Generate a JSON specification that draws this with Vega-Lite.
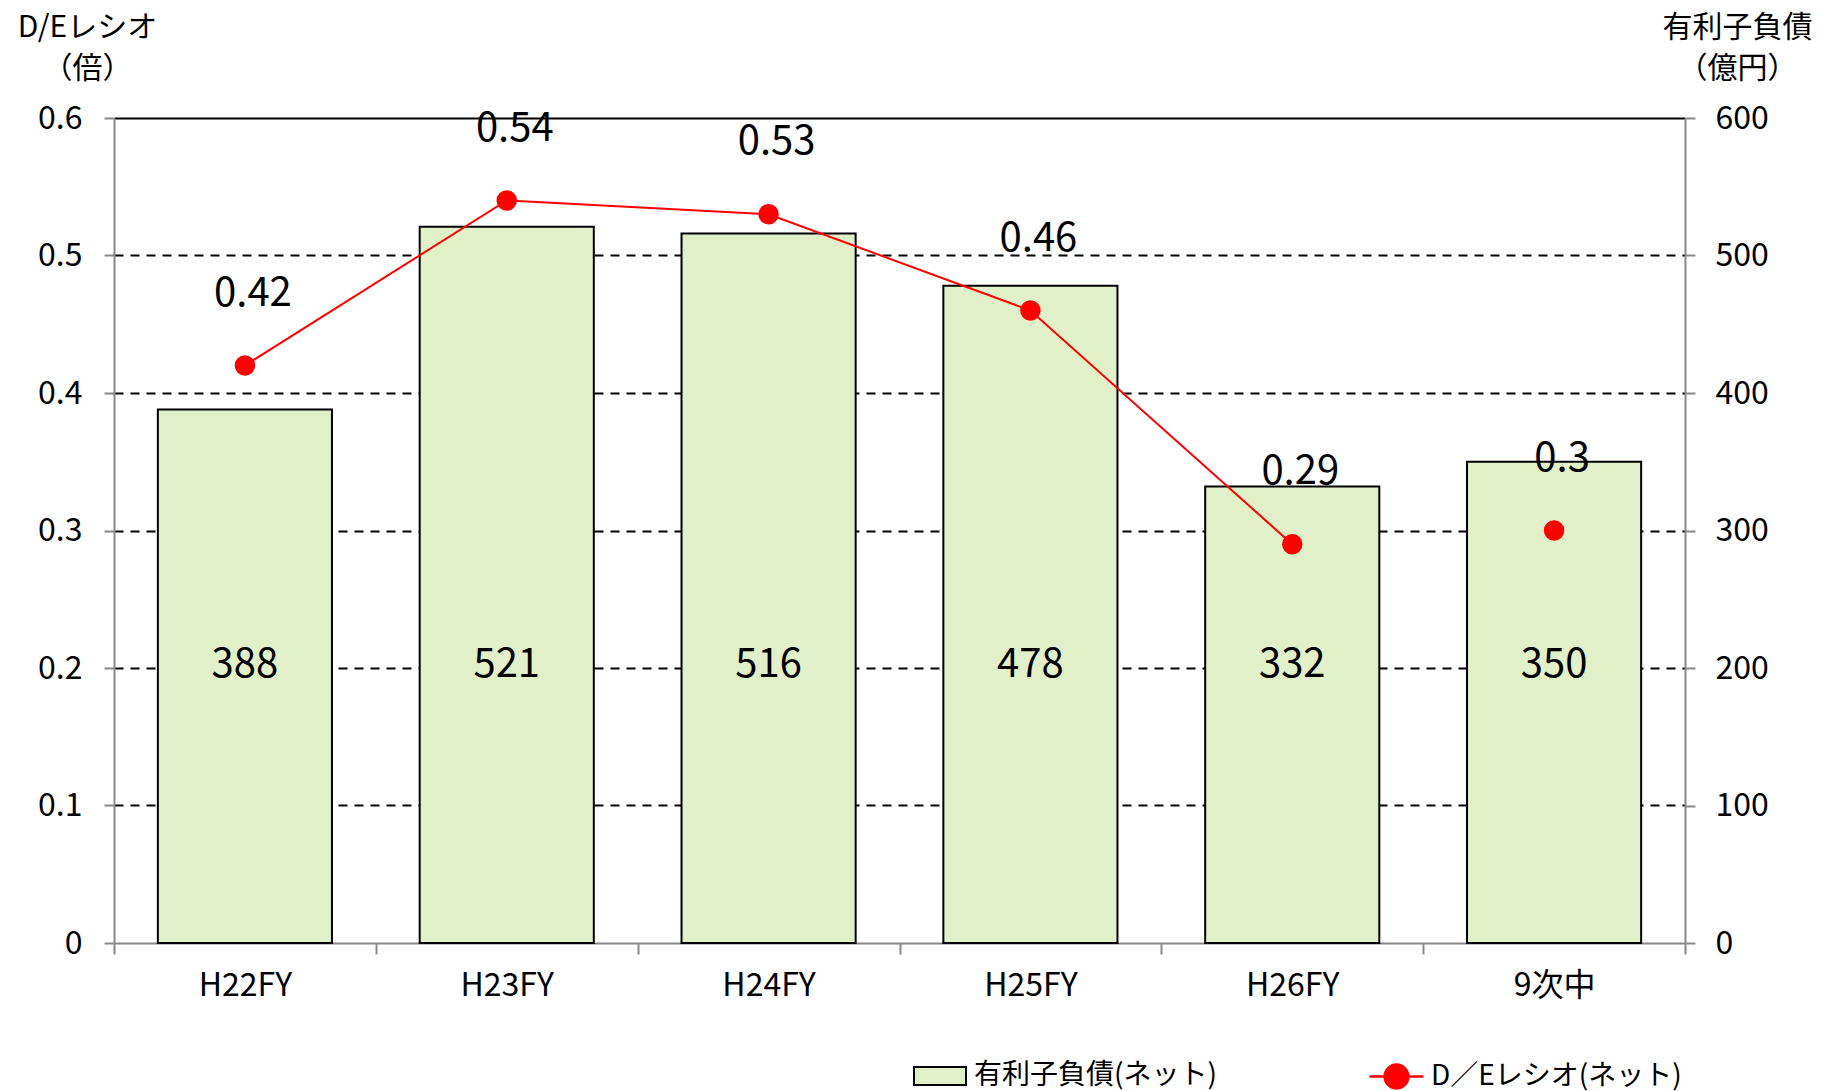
{
  "$schema": "https://vega.github.io/schema/vega-lite/v6.json",
  "width": 1571,
  "height": 825,
  "autosize": "none",
  "padding": {"left": 114, "top": 118, "right": 136, "bottom": 148},
  "background": "white",
  "config": {
    "font": "Noto Sans CJK JP",
    "view": {"stroke": null},
    "axis": {
      "labelFont": "Noto Sans CJK JP",
      "titleFont": "Noto Sans CJK JP",
      "labelColor": "black",
      "titleColor": "black",
      "domainColor": "#888888",
      "domainWidth": 2,
      "tickColor": "#888888",
      "tickWidth": 2
    },
    "legend": {"labelFont": "Noto Sans CJK JP", "labelColor": "black"}
  },
  "data": {
    "values": [
      {"year": "H22FY", "debt": 388, "de": 0.42},
      {"year": "H23FY", "debt": 521, "de": 0.54},
      {"year": "H24FY", "debt": 516, "de": 0.53},
      {"year": "H25FY", "debt": 478, "de": 0.46},
      {"year": "H26FY", "debt": 332, "de": 0.29},
      {"year": "9次中", "debt": 350, "de": 0.3}
    ]
  },
  "encoding": {
    "x": {
      "field": "year",
      "type": "nominal",
      "sort": null,
      "scale": {"paddingInner": 0, "paddingOuter": 0},
      "axis": {
        "title": null,
        "labelAngle": 0,
        "labelFontSize": 32,
        "tickBand": "extent",
        "tickSize": 11,
        "labelPadding": 31,
        "labelBaseline": "middle",
        "grid": false
      }
    }
  },
  "layer": [
    {
      "layer": [
        {
          "mark": {"type": "bar", "stroke": "black", "strokeWidth": 2, "width": {"band": 0.665}},
          "encoding": {
            "y": {
              "field": "debt",
              "type": "quantitative",
              "scale": {"domain": [0, 600]},
              "axis": {
                "orient": "right",
                "values": [0, 100, 200, 300, 400, 500, 600],
                "labelFontSize": 32,
                "tickSize": 10,
                "labelPadding": 20,
                "grid": false,
                "title": ["有利子負債", "（億円）"],
                "titleAngle": 0,
                "titleX": 52,
                "titleY": -91,
                "titleAlign": "center",
                "titleBaseline": "middle",
                "titleFontSize": 30,
                "titleFontWeight": "normal",
                "titleLineHeight": 41
              }
            },
            "fill": {
              "datum": "有利子負債(ネット)",
              "type": "nominal",
              "scale": {"range": ["#E2F0C9"]},
              "legend": {
                "orient": "none",
                "legendX": 799,
                "legendY": 931,
                "title": null,
                "padding": 0,
                "symbolType": "M-1,-0.35H1V0.35H-1Z",
                "symbolSize": 2704,
                "symbolStrokeColor": "black",
                "symbolStrokeWidth": 2,
                "labelFontSize": 28,
                "labelOffset": 7,
                "labelLimit": 400
              }
            }
          }
        },
        {
          "mark": {"type": "text", "fontSize": 40, "baseline": "middle", "dy": -3, "color": "black"},
          "encoding": {
            "y": {"datum": 200, "type": "quantitative"},
            "text": {"field": "debt", "type": "quantitative"}
          }
        }
      ]
    },
    {
      "layer": [
        {
          "transform": [{"filter": "datum.year !== '9次中'"}],
          "mark": {"type": "line", "strokeWidth": 2},
          "encoding": {
            "y": {
              "field": "de",
              "type": "quantitative",
              "scale": {"domain": [0, 0.6]},
              "axis": {
                "orient": "left",
                "values": [0, 0.1, 0.2, 0.3, 0.4, 0.5, 0.6],
                "format": ".1~f",
                "labelFontSize": 32,
                "tickSize": 10,
                "labelPadding": 22,
                "grid": true,
                "gridColor": "black",
                "gridWidth": 2,
                "gridDash": {"condition": {"test": "datum.value >= 0.59", "value": []}, "value": [9, 7]},
                "gridOpacity": {"condition": {"test": "datum.value === 0", "value": 0}, "value": 1},
                "title": ["D/Eレシオ", "（倍）"],
                "titleAngle": 0,
                "titleX": -27,
                "titleY": -91,
                "titleAlign": "center",
                "titleBaseline": "middle",
                "titleFontSize": 30,
                "titleFontWeight": "normal",
                "titleLineHeight": 41
              }
            },
            "stroke": {
              "datum": "D／Eレシオ(ネット)",
              "type": "nominal",
              "scale": {"range": ["#FF0000"]},
              "legend": {
                "orient": "none",
                "legendX": 1254,
                "legendY": 930,
                "title": null,
                "padding": 0,
                "symbolType": "M-1,0H1M-0.44,0A0.44,0.44 0 1,0 0.44,0A0.44,0.44 0 1,0 -0.44,0Z",
                "symbolSize": 2916,
                "symbolStrokeWidth": 2.5,
                "symbolStrokeColor": "#FF0000",
                "symbolFillColor": "#FF0000",
                "labelFontSize": 28,
                "labelOffset": 6,
                "labelLimit": 400,
                "encode": {
                  "symbols": {
                    "update": {
                      "fill": {"value": "#FF0000"},
                      "stroke": {"value": "#FF0000"},
                      "strokeWidth": {"value": 2.5}
                    }
                  }
                }
              }
            }
          }
        },
        {
          "mark": {"type": "circle", "size": 420, "color": "#FF0000", "opacity": 1},
          "encoding": {
            "y": {"field": "de", "type": "quantitative"}
          }
        },
        {
          "mark": {"type": "text", "fontSize": 40, "baseline": "middle", "dy": -72, "dx": 8, "color": "black"},
          "encoding": {
            "y": {"field": "de", "type": "quantitative"},
            "text": {"field": "de", "type": "quantitative", "format": "~g"}
          }
        }
      ]
    }
  ],
  "resolve": {"scale": {"y": "independent"}}
}
